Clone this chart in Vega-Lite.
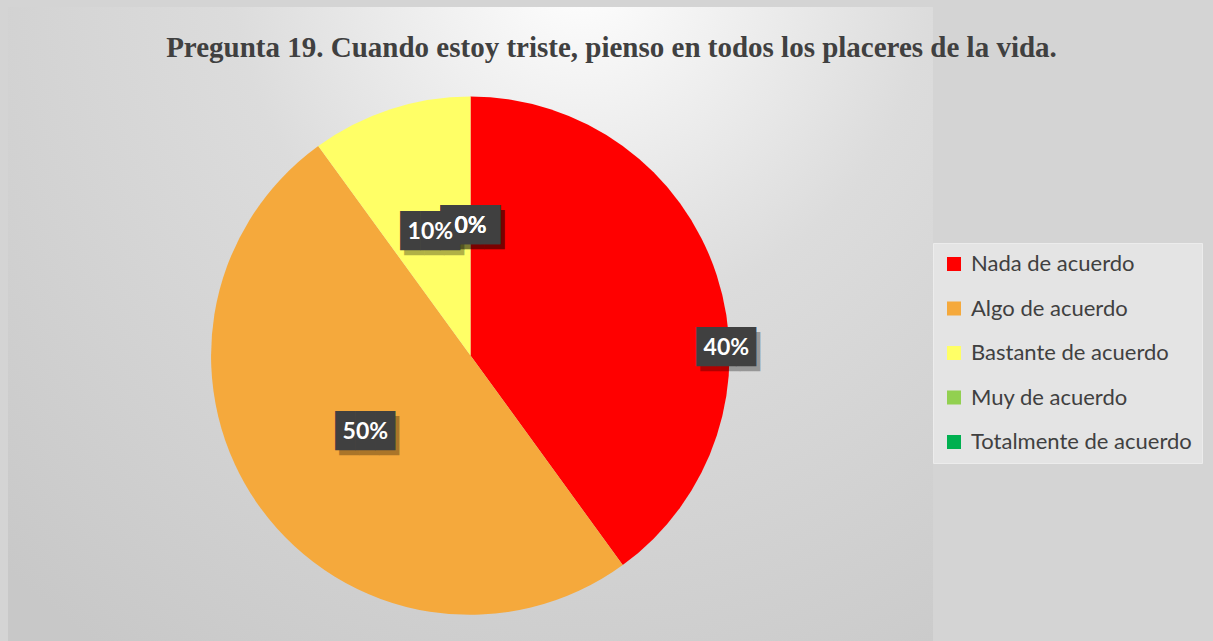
{
  "$schema": "https://vega.github.io/schema/vega-lite/v6.json",
  "width": 925,
  "height": 697,
  "padding": {"left": 8, "top": 7, "right": 20, "bottom": 0},
  "background": "#d4d4d4",
  "view": {
    "stroke": null,
    "fill": {
      "gradient": "radial",
      "x1": 0.62, "y1": 0.08, "r1": 0,
      "x2": 0.62, "y2": 0.08, "r2": 0.9,
      "stops": [
        {"offset": 0, "color": "#ffffff"},
        {"offset": 0.42, "color": "#dcdcdc"},
        {"offset": 1, "color": "#c8c8c8"}
      ]
    }
  },
  "title": {
    "text": "Pregunta 19. Cuando estoy triste, pienso en todos los placeres de la vida.",
    "font": "Liberation Serif",
    "fontSize": 29,
    "fontWeight": "bold",
    "color": "#404040",
    "anchor": "middle",
    "frame": "group",
    "dx": 141,
    "offset": -79,
    "baseline": "alphabetic"
  },
  "data": {
    "values": [
      {"cat": "Nada de acuerdo", "pct": 40, "label": "40%", "i": 1},
      {"cat": "Algo de acuerdo", "pct": 50, "label": "50%", "i": 2},
      {"cat": "Bastante de acuerdo", "pct": 10, "label": "10%", "i": 3},
      {"cat": "Muy de acuerdo", "pct": 0, "label": "0%", "i": 4},
      {"cat": "Totalmente de acuerdo", "pct": 0, "label": "0%", "i": 5}
    ]
  },
  "encoding": {
    "theta": {"field": "pct", "type": "quantitative", "stack": true},
    "order": {"field": "i", "type": "quantitative"}
  },
  "layer": [
    {
      "mark": {"type": "arc", "outerRadius": 259, "strokeWidth": 0},
      "encoding": {
        "color": {
          "field": "cat",
          "type": "nominal",
          "sort": ["Nada de acuerdo", "Algo de acuerdo", "Bastante de acuerdo", "Muy de acuerdo", "Totalmente de acuerdo"],
          "scale": {
            "domain": ["Nada de acuerdo", "Algo de acuerdo", "Bastante de acuerdo", "Muy de acuerdo", "Totalmente de acuerdo"],
            "range": ["#ff0000", "#f5a93c", "#ffff66", "#92d050", "#00b050"]
          },
          "legend": {
            "title": null,
            "orient": "none",
            "legendX": 925,
            "legendY": 236,
            "symbolType": "square",
            "symbolSize": 196,
            "symbolStrokeWidth": 0,
            "labelFont": "Lato",
            "labelFontSize": 22,
            "labelLimit": 400,
            "labelColor": "#404040",
            "labelOffset": 6,
            "rowPadding": 22.5,
            "padding": 10,
            "fillColor": "#e4e4e4",
            "strokeColor": "#ececec"
          }
        }
      }
    },
    {
      "mark": {"type": "text", "radius": 130, "font": "DejaVu Sans Mono", "fontSize": 33, "color": "#000000", "opacity": 0.3, "dx": 4, "dy": 5, "baseline": "middle"},
      "encoding": {
        "detail": {"field": "cat"},
        "text": {"condition": {"test": "datum.i === 1", "value": ""}, "value": "███"}
      }
    },
    {
      "mark": {"type": "text", "radius": 130, "font": "DejaVu Sans Mono", "fontSize": 33, "color": "#404040", "baseline": "middle"},
      "encoding": {
        "detail": {"field": "cat"},
        "text": {"condition": {"test": "datum.i === 1", "value": ""}, "value": "███"}
      }
    },
    {
      "mark": {"type": "text", "radius": 130, "font": "Lato", "fontSize": 23, "fontWeight": "bold", "color": "#ffffff", "baseline": "middle"},
      "encoding": {
        "detail": {"field": "cat"},
        "text": {"condition": {"test": "datum.i === 1", "value": ""}, "field": "label"}
      }
    },
    {
      "mark": {"type": "text", "radius": 256, "thetaOffset": 0.283, "font": "DejaVu Sans Mono", "fontSize": 33, "color": "#000000", "opacity": 0.3, "dx": 4, "dy": 5, "baseline": "middle"},
      "encoding": {
        "detail": {"field": "cat"},
        "text": {"condition": {"test": "datum.i === 1", "value": "███"}, "value": ""}
      }
    },
    {
      "mark": {"type": "text", "radius": 256, "thetaOffset": 0.283, "font": "DejaVu Sans Mono", "fontSize": 33, "color": "#404040", "baseline": "middle"},
      "encoding": {
        "detail": {"field": "cat"},
        "text": {"condition": {"test": "datum.i === 1", "value": "███"}, "value": ""}
      }
    },
    {
      "mark": {"type": "text", "radius": 256, "thetaOffset": 0.283, "font": "Lato", "fontSize": 23, "fontWeight": "bold", "color": "#ffffff", "baseline": "middle"},
      "encoding": {
        "detail": {"field": "cat"},
        "text": {"condition": {"test": "datum.i === 1", "field": "label"}, "value": ""}
      }
    }
  ]
}
